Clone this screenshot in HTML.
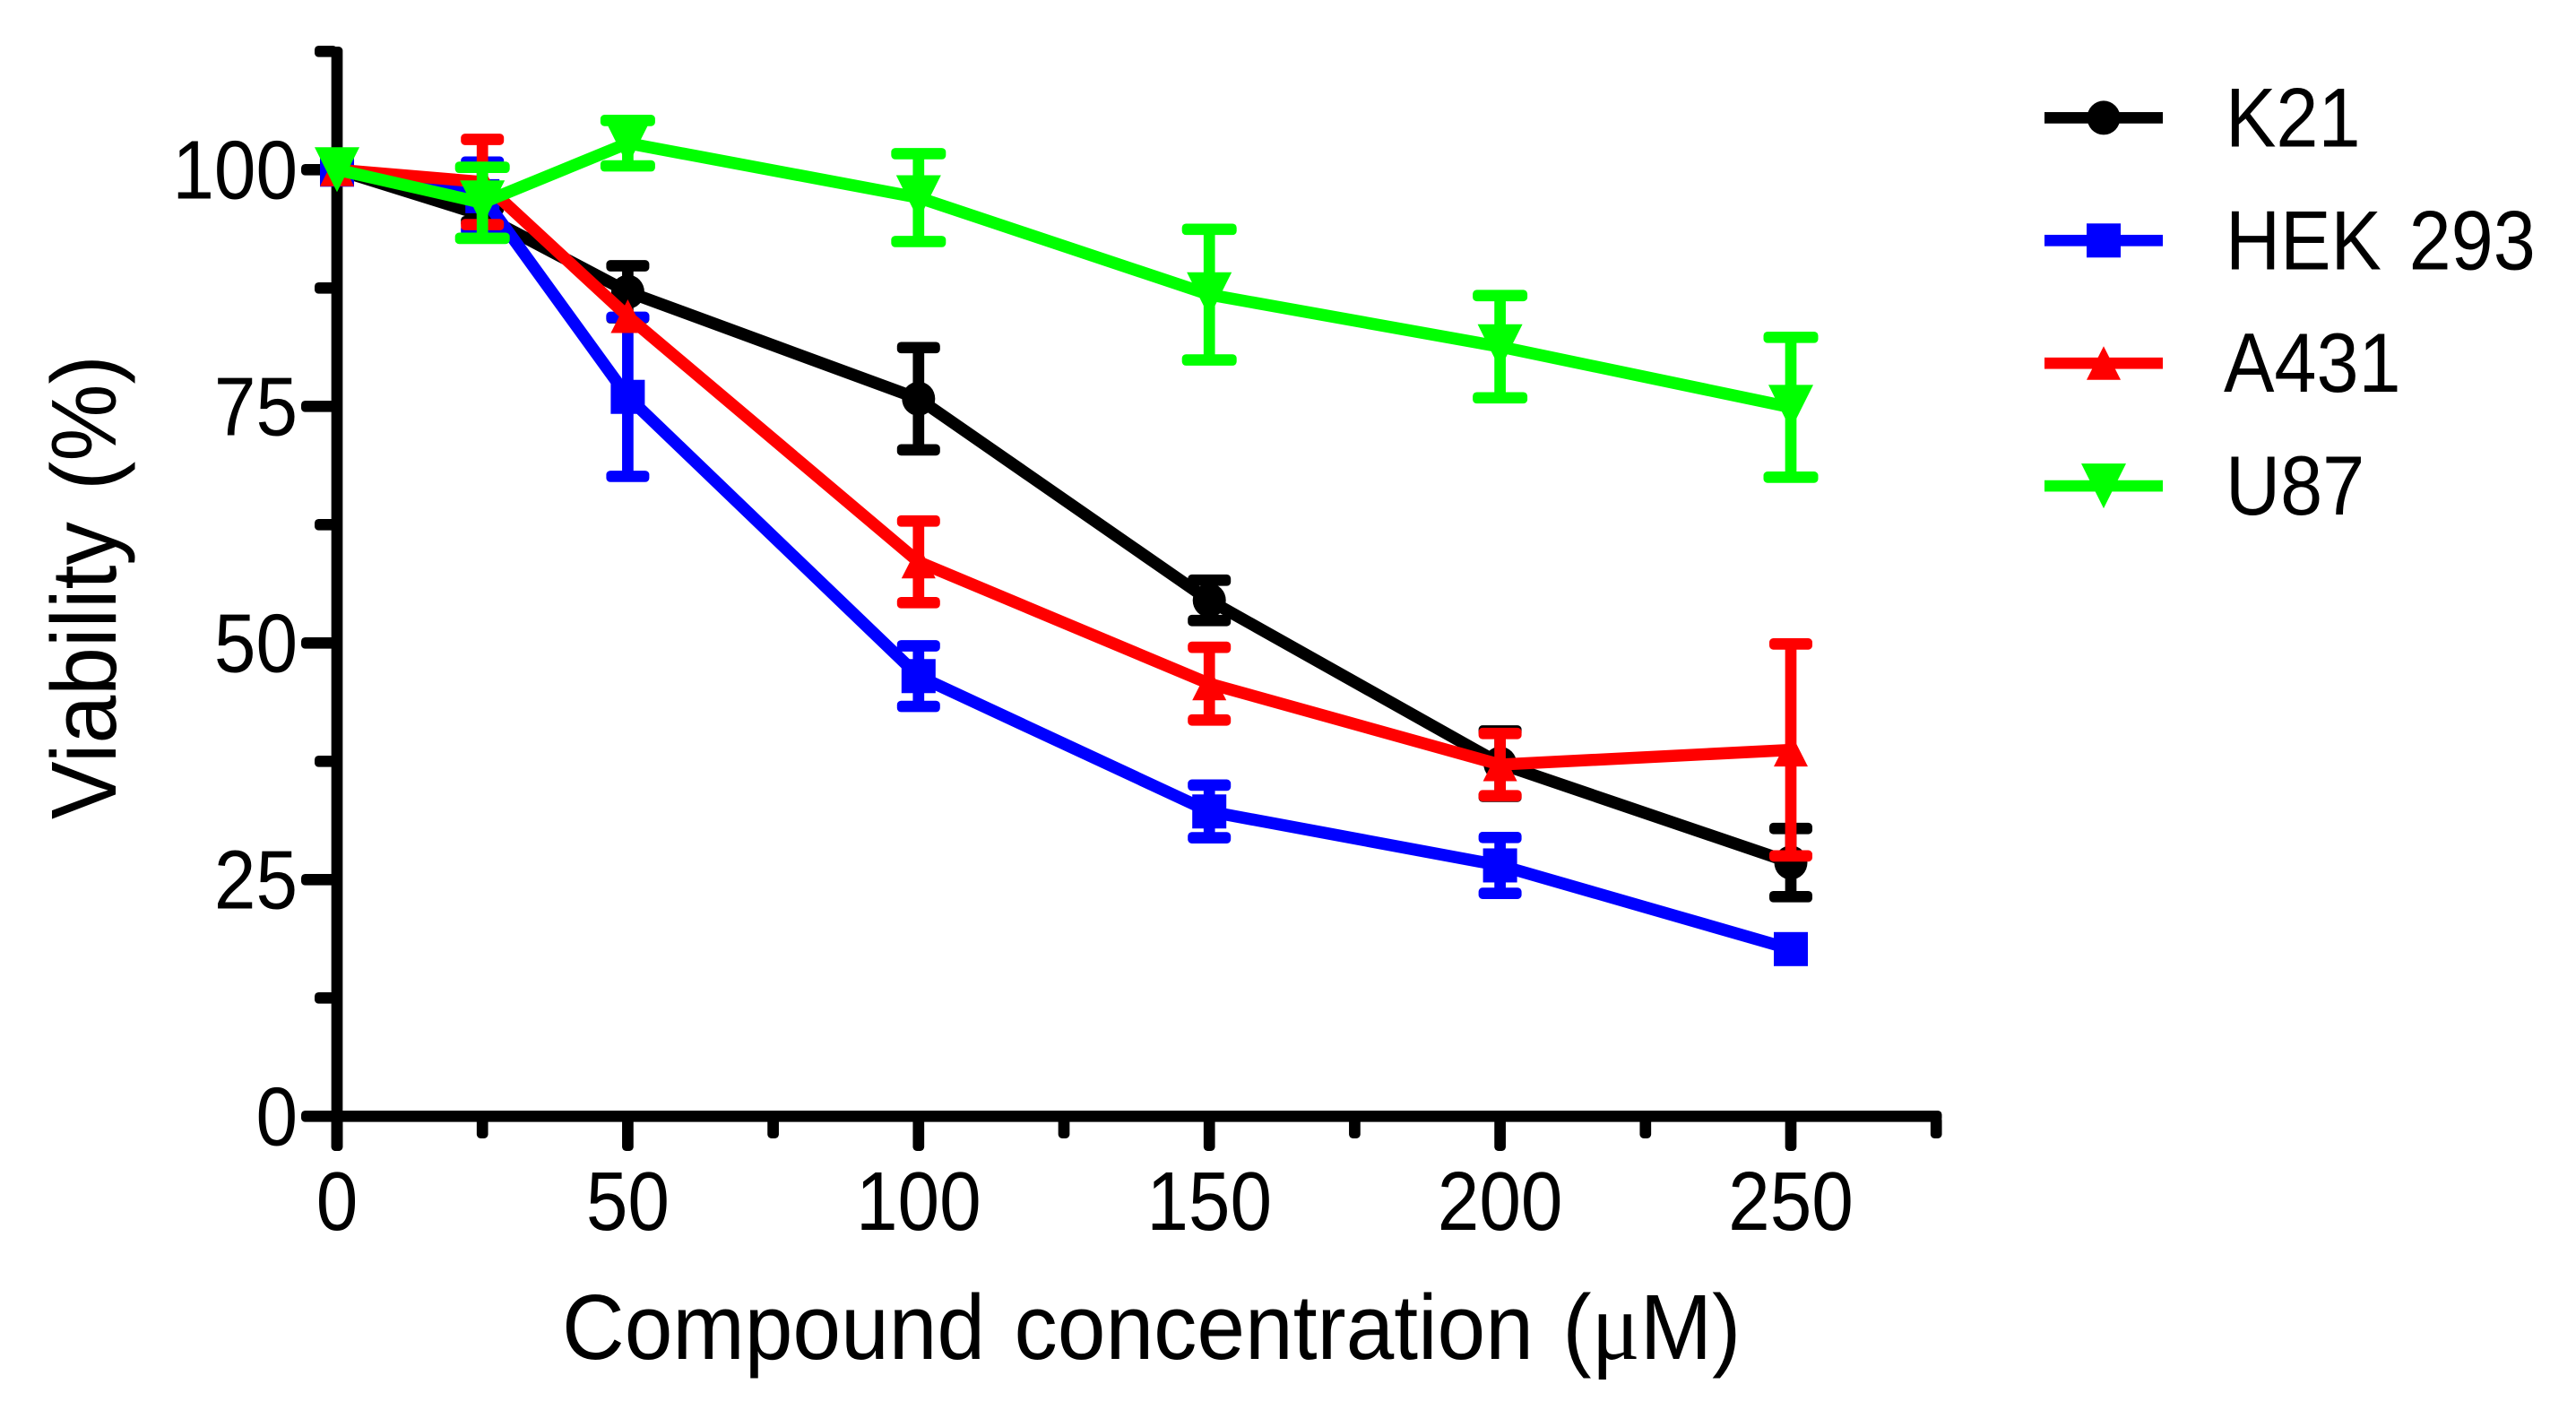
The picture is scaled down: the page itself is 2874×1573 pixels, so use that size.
<!DOCTYPE html>
<html lang="en">
<head>
<meta charset="utf-8">
<title>Compound viability chart</title>
<style>
html,body{margin:0;padding:0;background:#fff;}
svg{display:block;}
text{font-family:"Liberation Sans",Arial,sans-serif;fill:#000;}
</style>
</head>
<body>
<svg id="chart" xmlns="http://www.w3.org/2000/svg" width="2874" height="1573" viewBox="0 0 2874 1573">
  <rect x="0" y="0" width="2874" height="1573" fill="#ffffff"/>
  <g id="axes"></g>
  <g id="series"></g>
  <g id="legend"></g>
  <text transform="translate(627,1516) scale(0.937,1)" x="0" y="0" font-size="103" word-spacing="6">Compound concentration (<tspan font-family="Liberation Serif" font-size="108">μ</tspan>M)</text>
  <text transform="translate(129,914) rotate(-90) scale(0.94,1)" x="0" y="0" font-size="103" word-spacing="9">Viability (%)</text>
</svg>
<script>
const concentrations = [0, 25, 50, 100, 150, 200, 250];
const k21Values = [100, 95.2, 87.1, 75.8, 54.5, 37.25, 26.8];
const k21Errors = [0, 0.7, 2.75, 5.4, 2.13, 3.45, 3.6];
const hekValues = [100, 97.2, 76, 46.5, 32.2, 26.5, 17.66];
const hekErrors = [0, 3.6, 8.4, 3.2, 2.78, 2.95, 0];
const a431Values = [100, 98.7, 84.5, 58.57, 45.7, 37.15, 38.7];
const a431Errors = [0, 4.5, 0, 4.31, 3.84, 3.29, 11.2];
const u87Values = [100, 96.5, 102.8, 97.05, 86.8, 81.3, 74.9];
const u87Errors = [0, 3.75, 2.4, 4.64, 6.9, 5.4, 7.39];
const seriesNames = ["K21", "HEK 293", "A431", "U87"];
const seriesColors = ["#000000", "#0000ff", "#ff0000", "#00ff00"];
const xMajorTicks = [0, 50, 100, 150, 200, 250];
const xMinorTicks = [25, 75, 125, 175, 225, 275];
const yMajorTicks = [0, 25, 50, 75, 100];
const yMinorTicks = [12.5, 37.5, 62.5, 87.5, 112.5];

const SVG_NS = "http://www.w3.org/2000/svg";
const STROKE = 12.7;
const LINE_STROKE = 13.5;
const X0 = 376, X_SCALE = 6.488;
const Y0 = 1245.3, Y_SCALE = 10.56;
function xAxis(v) { return X0 + v * X_SCALE; }
function yAxis(v) { return Y0 - v * Y_SCALE; }

function make(tag, parent, attrs) {
  const node = document.createElementNS(SVG_NS, tag);
  for (const key in attrs) node.setAttribute(key, attrs[key]);
  parent.appendChild(node);
  return node;
}
function hBar(parent, x1, x2, y, fill) {
  return make("rect", parent, { x: x1, y: y - STROKE / 2, width: x2 - x1, height: STROKE, rx: 4.5, ry: 4.5, fill: fill });
}
function vBar(parent, x, y1, y2, fill) {
  return make("rect", parent, { x: x - STROKE / 2, y: y1, width: STROKE, height: y2 - y1, rx: 4.5, ry: 4.5, fill: fill });
}
function drawMarker(parent, kind, cx, cy, color) {
  if (kind === 0) {
    return make("ellipse", parent, { cx: cx, cy: cy, rx: 18.5, ry: 19, fill: color });
  }
  if (kind === 1) {
    return make("rect", parent, { x: cx - 19, y: cy - 19, width: 38, height: 38, fill: color });
  }
  if (kind === 2) {
    return make("polygon", parent, { points: (cx - 19) + "," + (cy + 18.5) + " " + (cx + 19) + "," + (cy + 18.5) + " " + cx + "," + (cy - 19), fill: color });
  }
  return make("polygon", parent, { points: (cx - 25) + "," + (cy - 25) + " " + (cx + 25) + "," + (cy - 25) + " " + cx + "," + (cy + 25), fill: color });
}

/* axes */
const axes = document.getElementById("axes");
const yLine = vBar(axes, X0, 52, 1284, "#000");


const xLine = hBar(axes, X0 - 6, 2166.5, Y0, "#000");



yMajorTicks.forEach(function (v) {
  const tick = hBar(axes, 336, X0, yAxis(v), "#000");
  
  
  const label = make("text", axes, { transform: "translate(332," + (yAxis(v) + 32) + ") scale(0.9,1)", "font-size": 93, "text-anchor": "end" });
  label.textContent = String(v);
  
  
});
yMinorTicks.forEach(function (v) {
  const tick = hBar(axes, 351, X0, yAxis(v), "#000");
  
  
});
xMajorTicks.forEach(function (v) {
  const tick = vBar(axes, xAxis(v), Y0, 1284, "#000");
  
  
  const label = make("text", axes, { transform: "translate(" + xAxis(v) + ",1372) scale(0.9,1)", "font-size": 93, "text-anchor": "middle" });
  label.textContent = String(v);
  
  
});
xMinorTicks.forEach(function (v) {
  const tick = vBar(axes, xAxis(v), Y0, 1270, "#000");
  
  
});

/* series */
const seriesLayer = document.getElementById("series");
const seriesValues = [k21Values, hekValues, a431Values, u87Values];
const seriesErrors = [k21Errors, hekErrors, a431Errors, u87Errors];
const capHalfWidths = [24, 24, 24, 30.5];

seriesValues.forEach(function (values, s) {
  const color = seriesColors[s];
  const group = make("g", seriesLayer, {});
  
  

  const errors = seriesErrors[s];
  values.forEach(function (v, i) {
    const err = errors[i];
    if (!err) return;
    const cx = xAxis(concentrations[i]);
    const top = yAxis(v + err);
    const bottom = yAxis(v - err);
    const stem = make("rect", group, { x: cx - STROKE / 2, y: top, width: STROKE, height: bottom - top, fill: color });
    
    
    const capTop = hBar(group, cx - capHalfWidths[s], cx + capHalfWidths[s], top, color);
    
    
    const capBottom = hBar(group, cx - capHalfWidths[s], cx + capHalfWidths[s], bottom, color);
    
    
  });

  const pts = values.map(function (v, i) { return xAxis(concentrations[i]) + "," + yAxis(v); }).join(" ");
  const line = make("polyline", group, { points: pts, fill: "none", stroke: color, "stroke-width": LINE_STROKE, "stroke-linejoin": "miter" });
  
  

  values.forEach(function (v, i) {
    const marker = drawMarker(group, s, xAxis(concentrations[i]), yAxis(v), color);
    
    
  });
});

/* legend */
const legend = document.getElementById("legend");
seriesNames.forEach(function (name, i) {
  const rowY = 131.4 + i * 136.9;
  const entry = make("g", legend, {});
  
  
  const swatch = make("rect", entry, { x: 2281, y: rowY - STROKE / 2, width: 132, height: STROKE, fill: seriesColors[i] });
  
  
  const marker = drawMarker(entry, i, 2347, rowY, seriesColors[i]);
  
  
  const labelX = name === "A431" ? 2481 : 2483;
  const label = make("text", entry, { transform: "translate(" + labelX + "," + (rowY + 32) + ") scale(0.9,1)", "font-size": 94, "word-spacing": 8 });
  label.textContent = name;
  
  
});
</script>
</body>
</html>
